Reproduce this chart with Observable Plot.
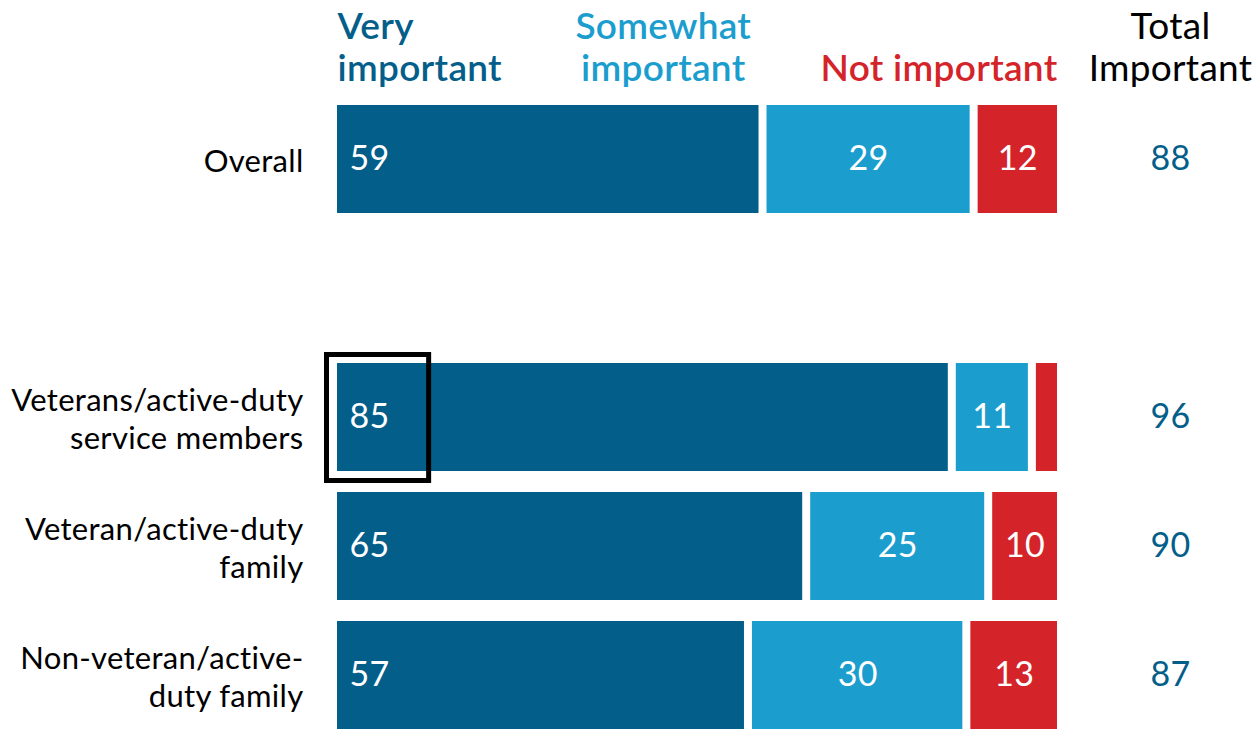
<!DOCTYPE html>
<html>
<head>
<meta charset="utf-8">
<script src="https://cdn.jsdelivr.net/npm/d3@7"></script>
<script src="https://cdn.jsdelivr.net/npm/@observablehq/plot@0.6"></script>
<style>
  html, body { margin: 0; padding: 0; background: #fff; }
  svg { display: block; }
  svg text { letter-spacing: 0.3px; }
</style>
</head>
<body>
<div id="chart"></div>
<script>
// ---- data ----
const groups = [
  "Overall",
  "Veterans/active-duty\nservice members",
  "Veteran/active-duty\nfamily",
  "Non-veteran/active-\nduty family"
];
const veryImportant = [59, 85, 65, 57];
const somewhatImportant = [29, 11, 25, 30];
const notImportant = [12, 4, 10, 13];
const totalImportant = [88, 96, 90, 87];
const categories = ["Very important", "Somewhat important", "Not important"];
const categoryHeaders = ["Very\nimportant", "Somewhat\nimportant", "Not important"];
const totalHeader = "Total\nImportant";
const highlightGroup = groups[1];
const gapRow = " ";

const colors = ["#035e89", "#1b9dce", "#d4242a"];
const series = [veryImportant, somewhatImportant, notImportant];

// build segments
const segments = [];
groups.forEach((g, i) => {
  let start = 0;
  series.forEach((vals, k) => {
    const v = vals[i];
    segments.push({group: g, category: categories[k], k, value: v, x1: start, x2: start + v});
    start += v;
  });
});
const totals = groups.map((g, i) => ({group: g, total: totalImportant[i]}));

const headerX = [0, 45.3, 100];
const headerAnchor = ["start", "middle", "end"];
const headerDx = [4, 0, -4];

const font = "Lato, 'Open Sans', sans-serif";

const headerMarks = categoryHeaders.map((t, k) =>
  Plot.text([t], {
    x: () => headerX[k], frameAnchor: "top", text: d => d,
    textAnchor: headerAnchor[k], dx: headerDx[k],
    dy: -25, lineAnchor: "bottom", lineHeight: 1.13,
    fill: colors[k], fontSize: 37, fontWeight: 600
  })
);

const chart = Plot.plot({
  width: 1258,
  height: 729,
  marginTop: 105,
  marginBottom: 0,
  marginLeft: 333,
  marginRight: 197,
  style: {fontFamily: font, background: "#fff"},
  x: {domain: [0, 100], axis: null},
  y: {domain: [groups[0], gapRow, ...groups.slice(1)], axis: null, paddingInner: 0.163, paddingOuter: 0},
  color: {domain: categories, range: colors},
  marks: [
    Plot.rectX(segments, {
      y: "group", x1: "x1", x2: "x2", fill: "category",
      insetLeft: 4, insetRight: 4
    }),
    // value labels: first segment left aligned
    Plot.text(segments.filter(d => d.k === 0), {
      y: "group", x: "x1", text: d => String(d.value),
      textAnchor: "start", dx: 16, fill: "white", fontSize: 34
    }),
    Plot.text(segments.filter(d => d.k > 0 && d.value >= 5), {
      y: "group", x: d => (d.x1 + d.x2) / 2, text: d => String(d.value),
      textAnchor: "middle", fill: "white", fontSize: 34
    }),
    // totals column
    Plot.text(totals, {
      y: "group", frameAnchor: "right", text: d => String(d.total),
      textAnchor: "middle", dx: 109, fill: "#035e89", fontSize: 34
    }),
    // row labels
    Plot.text(groups, {
      y: d => d, frameAnchor: "left", text: d => d,
      textAnchor: "end", dx: -30, fill: "black", fontSize: 31, lineHeight: 1.22
    }),
    // highlight box
    Plot.rect([highlightGroup], {
      y: d => d, x1: () => 0, x2: () => 13,
      fill: "none", stroke: "black", strokeWidth: 5,
      insetLeft: -6.5, insetRight: -1, insetTop: -8.5, insetBottom: -9.5
    }),
    // headers
    ...headerMarks,
    Plot.text([totalHeader], {
      frameAnchor: "top-right", text: d => d,
      textAnchor: "middle", dx: 109, dy: -25, lineAnchor: "bottom", lineHeight: 1.13,
      fill: "black", fontSize: 37
    })
  ]
});
document.getElementById("chart").appendChild(chart);
</script>
</body>
</html>
